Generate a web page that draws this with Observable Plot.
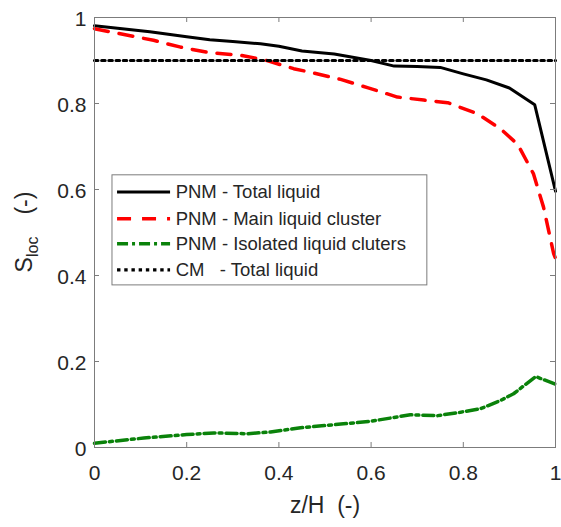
<!DOCTYPE html>
<html>
<head>
<meta charset="utf-8">
<script src="https://cdn.jsdelivr.net/npm/d3@7"></script>
<script src="https://cdn.jsdelivr.net/npm/@observablehq/plot@0.6"></script>
<style>
  body { margin: 0; background: #fff; }
  #chart svg { font-family: "Liberation Sans", Arial, Helvetica, sans-serif; }
</style>
</head>
<body>
<div id="chart"></div>
<script>
// Local saturation along the normalised height z/H
const zTotal = [0, 0.05, 0.12, 0.2, 0.25, 0.3, 0.36, 0.4, 0.45, 0.52, 0.6, 0.65, 0.7, 0.75, 0.8, 0.85, 0.9, 0.955, 1];
const sTotal = [0.981, 0.975, 0.967, 0.955, 0.948, 0.944, 0.939, 0.933, 0.922, 0.915, 0.900, 0.887, 0.886, 0.884, 0.869, 0.855, 0.836, 0.797, 0.596];

const zMain = [0, 0.056, 0.128, 0.187, 0.245, 0.317, 0.367, 0.432, 0.475, 0.534, 0.592, 0.657, 0.714, 0.766, 0.831, 0.881, 0.918, 0.952, 0.974, 0.996, 1];
const sMain = [0.974, 0.962, 0.947, 0.931, 0.919, 0.912, 0.902, 0.881, 0.871, 0.856, 0.837, 0.815, 0.808, 0.802, 0.776, 0.741, 0.705, 0.637, 0.559, 0.451, 0.44];

const zIsolated = [0, 0.107, 0.2, 0.259, 0.331, 0.382, 0.447, 0.54, 0.599, 0.685, 0.744, 0.794, 0.837, 0.88, 0.909, 0.957, 1];
const sIsolated = [0.010, 0.022, 0.030, 0.034, 0.032, 0.036, 0.046, 0.055, 0.061, 0.076, 0.074, 0.082, 0.090, 0.109, 0.125, 0.165, 0.147];

const zCM = [0, 1];
const sCM = [0.9, 0.9];

const xTicks = [0, 0.2, 0.4, 0.6, 0.8, 1];
const xTickLabels = ["0", "0.2", "0.4", "0.6", "0.8", "1"];
const yTicks = [0, 0.2, 0.4, 0.6, 0.8, 1];
const yTickLabels = ["0", "0.2", "0.4", "0.6", "0.8", "1"];

const xLabel = "z/H\u00a0\u00a0(-)";
const legendLabels = [
  "PNM - Total liquid",
  "PNM - Main liquid cluster",
  "PNM - Isolated liquid cluters",
  "CM\u00a0\u00a0\u00a0- Total liquid"
];

// Styling of the four series (same order as the legend)
const seriesStyle = [
  {stroke: "#000000", strokeWidth: 3, strokeDasharray: null},
  {stroke: "#ff0000", strokeWidth: 3.5, strokeDasharray: "14 11"},
  {stroke: "#0a820a", strokeWidth: 3.5, strokeDasharray: "11 4 3 4"},
  {stroke: "#000000", strokeWidth: 3.2, strokeDasharray: "3.4 3.8"}
];
const seriesData = [
  d3.zip(zTotal, sTotal),
  d3.zip(zMain, sMain),
  d3.zip(zIsolated, sIsolated),
  d3.zip(zCM, sCM)
];

const W = 561, H = 527;
const margin = {top: 17, right: 6, bottom: 80, left: 94};
const innerW = W - margin.left - margin.right;
const innerH = H - margin.top - margin.bottom;
const axisColor = "#7c7c7c";
const textColor = "#262626";
const tickLen = 5;

// Legend layout (in axis units)
const legendBox = {x1: 0.039, x2: 0.722, y1: 0.377, y2: 0.633};
const legendRowY = [0.594, 0.532, 0.474, 0.413];
const legendLineX = [0.05, 0.165];
const legendTextX = 0.176;

const marks = [];

// series
seriesData.forEach((data, i) => {
  marks.push(Plot.line(data, {
    x: d => d[0], y: d => d[1],
    ...seriesStyle[i],
    strokeLinejoin: "round"
  }));
});

// inward ticks on all four sides
marks.push(
  Plot.tickX(xTicks, {x: d => d, insetTop: innerH - tickLen, stroke: axisColor}),
  Plot.tickX(xTicks, {x: d => d, insetBottom: innerH - tickLen, stroke: axisColor}),
  Plot.tickY(yTicks, {y: d => d, insetRight: innerW - tickLen, stroke: axisColor}),
  Plot.tickY(yTicks, {y: d => d, insetLeft: innerW - tickLen, stroke: axisColor})
);

// tick labels
marks.push(
  Plot.axisX({ticks: xTicks, tickFormat: d => xTickLabels[xTicks.indexOf(d)], tickSize: 0, tickPadding: 18,
              fontSize: 21, fill: textColor, label: null, style: {letterSpacing: "0.6px"}}),
  Plot.axisY({ticks: yTicks, tickFormat: d => yTickLabels[yTicks.indexOf(d)], tickSize: 0, tickPadding: 8,
              fontSize: 21, fill: textColor, label: null, dy: 2, style: {letterSpacing: "0.6px"}})
);

// x axis label
marks.push(Plot.text([xLabel], {frameAnchor: "bottom", dy: 58, lineAnchor: "middle", fontSize: 23,
  fill: textColor, text: d => d, style: {letterSpacing: "0.8px"}}));

// frame
marks.push(Plot.frame({stroke: axisColor, strokeWidth: 1}));

// legend
marks.push(Plot.rect([legendBox], {x1: "x1", x2: "x2", y1: "y1", y2: "y2", fill: "white", stroke: axisColor, strokeWidth: 1}));
legendLabels.forEach((label, i) => {
  marks.push(Plot.ruleY([legendRowY[i]], {y: d => d, x1: legendLineX[0], x2: legendLineX[1], ...seriesStyle[i]}));
});
marks.push(Plot.text(legendLabels, {x: legendTextX, y: (d, i) => legendRowY[i], text: d => d, textAnchor: "start",
  lineAnchor: "middle", fontSize: 18.5, fill: textColor, style: {letterSpacing: "0.5px"}}));

const chart = Plot.plot({
  width: W, height: H,
  marginTop: margin.top, marginRight: margin.right, marginBottom: margin.bottom, marginLeft: margin.left,
  x: {domain: [0, 1], axis: null},
  y: {domain: [0, 1], axis: null},
  style: {background: "white", overflow: "visible"},
  marks
});

// y axis label with subscript
const svg = d3.select(chart);
const yl = svg.append("text")
  .attr("transform", `translate(32,${margin.top + innerH / 2}) rotate(-90)`)
  .attr("text-anchor", "middle")
  .attr("fill", textColor)
  .attr("font-size", 23);
yl.append("tspan").text("S");
yl.append("tspan").attr("font-size", 16).attr("dy", 6).text("loc");
yl.append("tspan").attr("dy", -6).attr("dx", 22).text("(-)");

document.getElementById("chart").appendChild(chart);
</script>
</body>
</html>
